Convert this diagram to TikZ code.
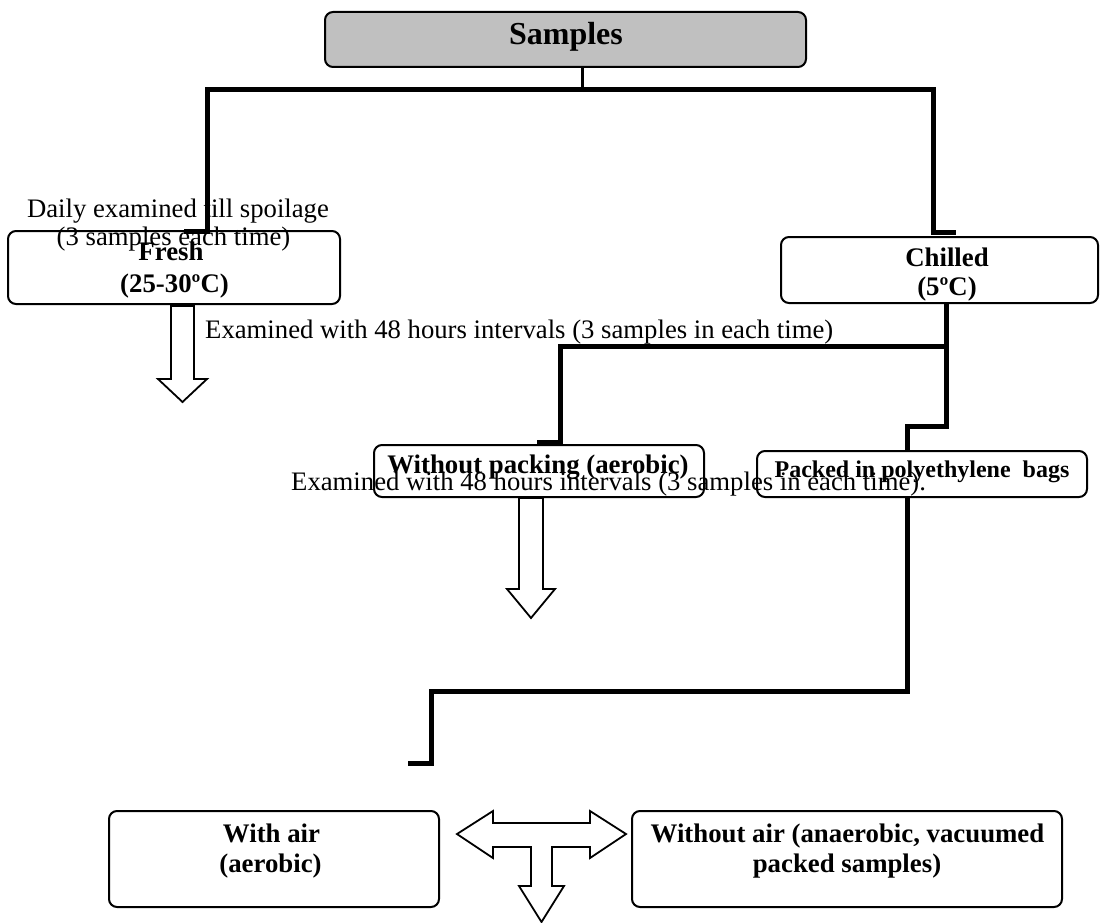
\documentclass[tikz,border=0pt]{standalone}
\usepackage{fontspec}
\setmainfont{Liberation Serif}
\definecolor{boxgray}{RGB}{192,192,192}
\begin{document}
\begin{tikzpicture}[x=1pt,y=-1pt,
  box/.style={draw, line width=2pt, rounded corners=8pt, fill=white, inner sep=0pt},
  conn/.style={line width=5pt, line join=miter},
  hollow/.style={draw, line width=1.8pt, fill=white, line join=miter},
  lbl/.style={font=\fontsize{26.7}{32}\selectfont, anchor=base, inner sep=0pt},
  blbl/.style={font=\fontsize{26.8}{32}\selectfont\bfseries, anchor=base, inner sep=0pt}]
\useasboundingbox (0,0) rectangle (1101,923);
% boxes
\node[box, fill=boxgray, minimum width=481pt, minimum height=55pt] (S) at (565.5,39.5) {};
\node[box, minimum width=332pt, minimum height=73pt] (fresh) at (174,267.5) {};
\node[box, minimum width=317pt, minimum height=66pt] (chilled) at (939.5,270) {};
\node[box, minimum width=330pt, minimum height=52pt] (nopack) at (539,471) {};
\node[box, minimum width=330pt, minimum height=46pt] (packed) at (922,474) {};
\node[box, minimum width=330pt, minimum height=96pt] (withair) at (274,859) {};
\node[box, minimum width=430pt, minimum height=96pt] (noair) at (847,859) {};
% texts
\node[blbl, font=\fontsize{32}{36}\selectfont\bfseries] (tS) at (566,45) {Samples};
\node[blbl] (tF1) at (171,260) {Fresh};
\node[blbl] (tF2) at (174.5,292) {(25-30ºC)};
\node[blbl] (tC1) at (947,266) {Chilled};
\node[blbl] (tC2) at (947,295) {(5ºC)};
\node[blbl] (tN) at (538,473) {Without packing (aerobic)};
\node[blbl, font=\fontsize{24}{28}\selectfont\bfseries] (tP) at (922,477) {Packed in polyethylene~ bags};
\node[blbl] (tW1) at (271.5,842) {With air};
\node[blbl] (tW2) at (270.5,872) {(aerobic)};
\node[blbl] (tA1) at (847.5,842) {Without air (anaerobic, vacuumed};
\node[blbl] (tA2) at (847,872) {packed samples)};
\node[lbl] (d1) at (178,217) {Daily examined till spoilage};
\node[lbl] (d2) at (173.5,245) {(3 samples each time)};
\node[lbl, anchor=base west] (e1) at (205,338) {Examined with 48 hours intervals (3 samples in each time)};
\node[lbl, anchor=base west] (e2) at (291,490) {Examined with 48 hours intervals (3 samples in each time).};
% connectors
\coordinate (j0) at (582.5,89.5);
\coordinate (tabF) at (184,231.5);
\coordinate (tabC) at (956,232);
\coordinate (b0) at (946,346.5);
\coordinate (tabN) at (537,442.5);
\coordinate (tabB) at (408,763);
\draw[line width=3.5pt] (S.south -| j0) -- (j0);
\draw[conn] (tabF) -- (207,231.5) |- (933,89.5) -- (933,232) -- (tabC);
\draw[conn] ([xshift=6.5pt]chilled.south) |- (907,426.5) -- ([xshift=-15pt]packed.north);
\draw[conn] (b0) -- (560.5,346.5) -- (560.5,442.5) -- (tabN);
\draw[conn] ([xshift=-15pt]packed.south) |- (431.5,691) |- (tabB);
% hollow arrows
\draw[hollow] (171,306) -- (171,379) -- (158,379) -- (182.5,402) -- (207,379) -- (194,379) -- (194,306) -- cycle;
\draw[hollow] (519,498) -- (519,589) -- (507,589) -- (531,618) -- (555,589) -- (543,589) -- (543,498) -- cycle;
\draw[hollow] (457,834) -- (493,811) -- (493,823) -- (590,823) -- (590,811) -- (626,834) -- (590,858) -- (590,847) -- (552,847) -- (552,886) -- (564,886) -- (541.5,922) -- (519,886) -- (531,886) -- (531,847) -- (493,847) -- (493,858) -- cycle;
\end{tikzpicture}
\end{document}
